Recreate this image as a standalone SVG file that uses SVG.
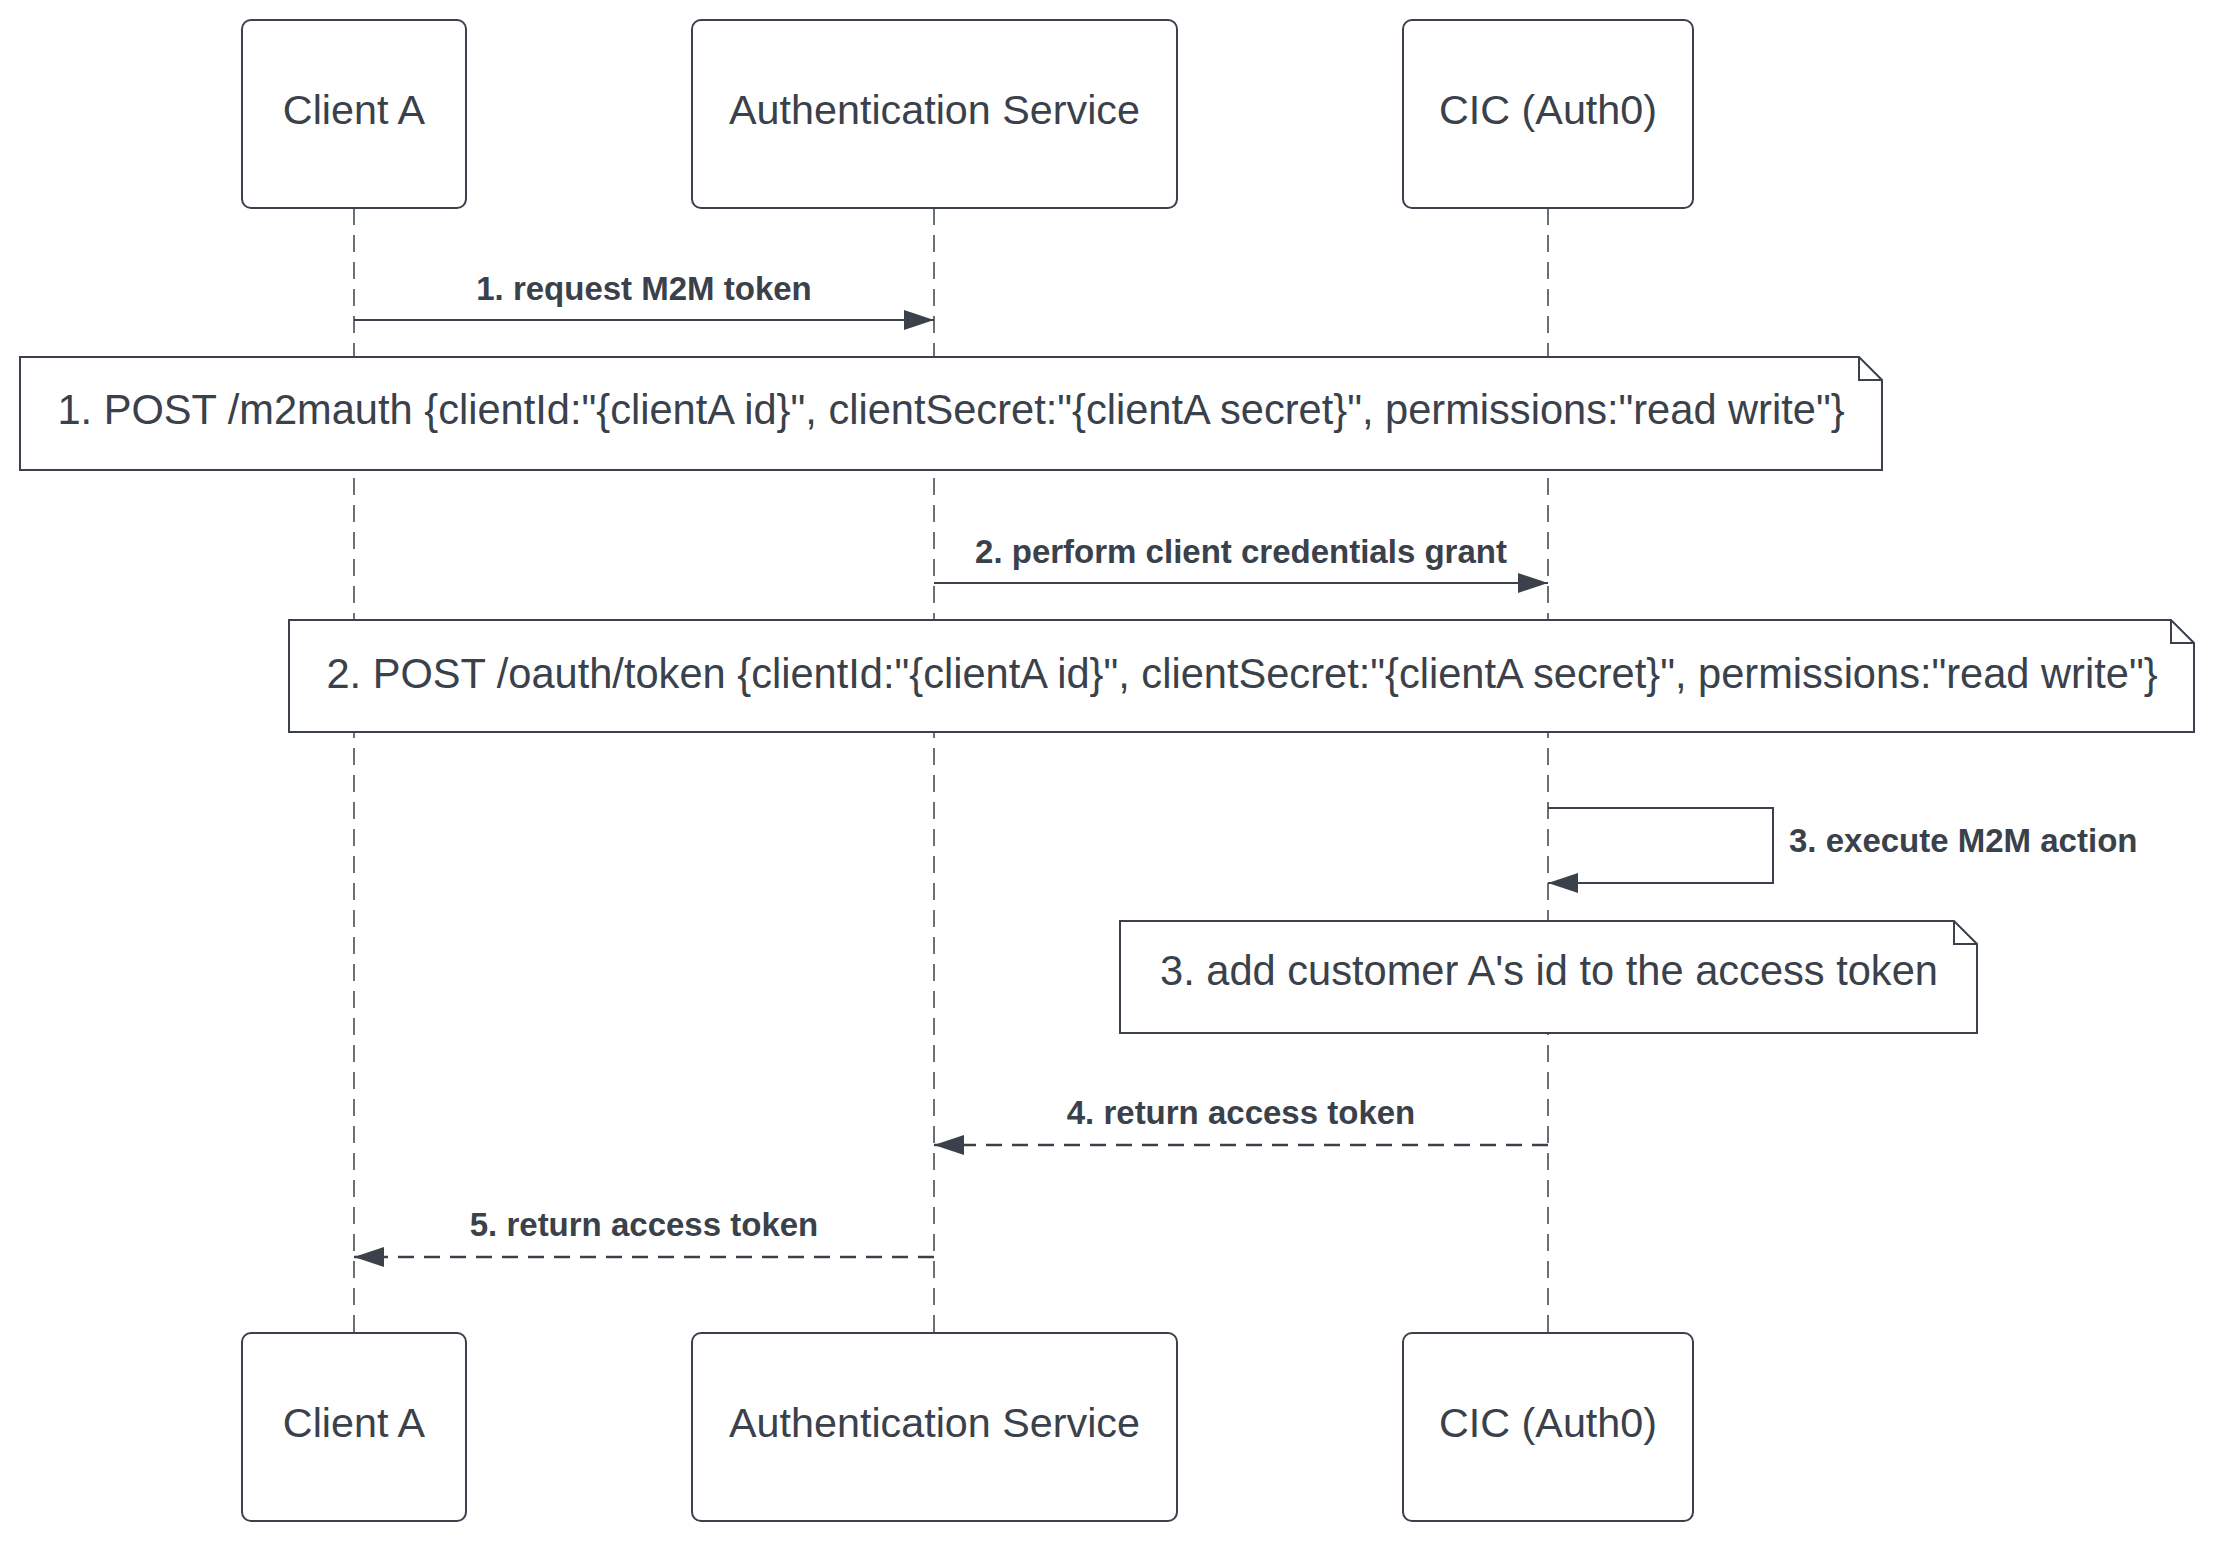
<svg xmlns="http://www.w3.org/2000/svg" width="2222" height="1541" viewBox="0 0 2222 1541">
<style>
.box{fill:#fff;stroke:#3a414a;stroke-width:2}
.note{fill:#fff;stroke:#3a414a;stroke-width:2;stroke-linejoin:miter}
.lbl{font-family:"Liberation Sans",Arial,sans-serif;font-size:41.3px;fill:#3a414a;text-anchor:middle}
.nt{font-size:41.6px}
.msg{font-family:"Liberation Sans",Arial,sans-serif;font-size:33px;font-weight:bold;fill:#3a414a;text-anchor:middle}
.life{stroke:#3a414a;stroke-width:1.5;stroke-dasharray:17 10;fill:none}
.line{stroke:#3a414a;stroke-width:2;fill:none}
.dash{stroke:#3a414a;stroke-width:2.5;fill:none;stroke-dasharray:16 10}
</style>
<defs>
<marker id="arr" markerUnits="userSpaceOnUse" markerWidth="30" markerHeight="20" refX="30" refY="10" orient="auto" viewBox="0 0 30 20">
<path d="M0,0 L30,10 L0,20 Z" fill="#3a414a"/>
</marker>
</defs>
<rect width="2222" height="1541" fill="#fff"/>
<g id="lifelines">
<line class="life" x1="354" y1="208" x2="354" y2="1333"/>
<line class="life" x1="934" y1="208" x2="934" y2="1333"/>
<line class="life" x1="1548" y1="208" x2="1548" y2="1333"/>
</g>
<g id="connectors">
<line class="line" x1="354" y1="320" x2="934" y2="320" marker-end="url(#arr)"/>
<text class="msg" x="644" y="300">1. request M2M token</text>
<line class="line" x1="934" y1="583" x2="1548" y2="583" marker-end="url(#arr)"/>
<text class="msg" x="1241" y="563">2. perform client credentials grant</text>
<path class="line" d="M1548,808 H1773 V883 H1548" marker-end="url(#arr)"/>
<text class="msg" x="1789" y="852" style="text-anchor:start">3. execute M2M action</text>
<line class="dash" x1="1548" y1="1145" x2="934" y2="1145" marker-end="url(#arr)"/>
<text class="msg" x="1241" y="1124">4. return access token</text>
<line class="dash" x1="934" y1="1257" x2="354" y2="1257" marker-end="url(#arr)"/>
<text class="msg" x="644" y="1236">5. return access token</text>
</g>
<g id="clientA-top"><rect class="box" x="242" y="20" width="224" height="188" rx="9"/><text class="lbl" x="354" y="124">Client A</text></g>
<g id="auth-top"><rect class="box" x="692" y="20" width="485" height="188" rx="9"/><text class="lbl" x="934.5" y="124">Authentication Service</text></g>
<g id="cic-top"><rect class="box" x="1403" y="20" width="290" height="188" rx="9"/><text class="lbl" x="1548" y="124">CIC (Auth0)</text></g>
<g id="note1">
<path class="note" d="M20,357 H1859 L1882,380 V470 H20 Z M1859,357 V380 H1882"/>
<text class="lbl nt" x="951" y="424">1. POST /m2mauth {clientId:"{clientA id}", clientSecret:"{clientA secret}", permissions:"read write"}</text>
</g>
<g id="note2">
<path class="note" d="M289,620 H2171 L2194,643 V732 H289 Z M2171,620 V643 H2194"/>
<text class="lbl nt" x="1242" y="688">2. POST /oauth/token {clientId:"{clientA id}", clientSecret:"{clientA secret}", permissions:"read write"}</text>
</g>
<g id="note3">
<path class="note" d="M1120,921 H1954 L1977,944 V1033 H1120 Z M1954,921 V944 H1977"/>
<text class="lbl nt" x="1549" y="985">3. add customer A's id to the access token</text>
</g>
<g id="clientA-bottom"><rect class="box" x="242" y="1333" width="224" height="188" rx="9"/><text class="lbl" x="354" y="1437">Client A</text></g>
<g id="auth-bottom"><rect class="box" x="692" y="1333" width="485" height="188" rx="9"/><text class="lbl" x="934.5" y="1437">Authentication Service</text></g>
<g id="cic-bottom"><rect class="box" x="1403" y="1333" width="290" height="188" rx="9"/><text class="lbl" x="1548" y="1437">CIC (Auth0)</text></g>
</svg>
